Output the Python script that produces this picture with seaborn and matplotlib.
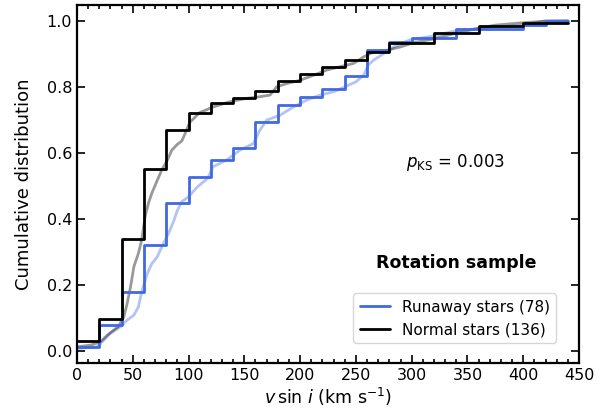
import numpy as np
import pandas as pd
import matplotlib
matplotlib.use("Agg")
import matplotlib.pyplot as plt
import seaborn as sns
from matplotlib.ticker import MultipleLocator

# ---------------- data ----------------
bin_edges = [0, 20, 40, 60, 80, 100, 120, 140, 160, 180, 200, 220,
             240, 260, 280, 300, 320, 340, 360, 380, 400, 420, 440]
n_runaway = 78
n_normal = 136
runaway_counts = [1, 6, 14, 25, 35, 41, 45, 48, 54, 58, 60, 62, 65, 71,
                  73, 74, 74, 76, 76, 76, 77, 78]
normal_counts = [4, 13, 46, 75, 91, 98, 102, 104, 107, 111, 114, 117, 120,
                 123, 127, 127, 131, 131, 134, 134, 135, 135]

# fine (unbinned) cumulative curves
runaway_fine_x = [0, 18, 24, 30, 39, 45, 51, 55, 58, 63, 67, 72, 76, 82, 87,
                  90, 94, 100, 108, 117, 122, 134, 146, 158, 164, 170, 182,
                  194, 206, 218, 230, 242, 250, 257, 261, 266, 275, 284, 298,
                  316, 340, 361, 382, 400, 420, 440]
runaway_fine_y = [0.007, 0.012, 0.032, 0.053, 0.073, 0.093, 0.108, 0.133,
                  0.179, 0.234, 0.264, 0.285, 0.315, 0.355, 0.396, 0.426,
                  0.452, 0.467, 0.497, 0.522, 0.558, 0.578, 0.608, 0.628,
                  0.669, 0.699, 0.714, 0.739, 0.760, 0.775, 0.785, 0.803,
                  0.815, 0.835, 0.866, 0.881, 0.901, 0.921, 0.942, 0.952,
                  0.970, 0.977, 0.982, 0.987, 1.0, 1.0]
normal_fine_x = [0, 12, 21, 27, 33, 37, 42, 45, 48, 51, 55, 58, 61, 64, 67,
                 72, 76, 81, 85, 90, 94, 97, 101, 110, 122, 137, 152, 164,
                 173, 179, 188, 200, 212, 224, 236, 248, 257, 266, 278, 290,
                 302, 318, 339, 359, 375, 399, 420, 440]
normal_fine_y = [0.012, 0.017, 0.027, 0.047, 0.063, 0.073, 0.103, 0.144,
                 0.194, 0.255, 0.295, 0.336, 0.406, 0.447, 0.477, 0.517,
                 0.548, 0.578, 0.608, 0.626, 0.636, 0.659, 0.692, 0.722,
                 0.739, 0.755, 0.765, 0.770, 0.775, 0.800, 0.810, 0.820,
                 0.835, 0.851, 0.861, 0.871, 0.891, 0.906, 0.911, 0.921,
                 0.934, 0.944, 0.962, 0.977, 0.987, 0.994, 0.999, 1.0]

runaway_label = "Runaway stars (78)"
normal_label = "Normal stars (136)"
pks_text = r"$p_{\rm KS}$ = 0.003"
sample_title = "Rotation sample"
x_label = r"$v\,\sin\,i$ (km s$^{-1}$)"
y_label = "Cumulative distribution"

# ---------------- style ----------------
sns.set_style("ticks", rc={
    "axes.edgecolor": "black",
    "axes.labelcolor": "black",
    "text.color": "black",
    "xtick.color": "black",
    "ytick.color": "black",
})
plt.rcParams["font.family"] = ["DejaVu Sans"]
plt.rcParams["mathtext.fontset"] = "dejavusans"

blue = "#4169e1"

fig = plt.figure(figsize=(6.1, 4.16), dpi=100)
ax = fig.add_axes([77 / 610, 53 / 416, 502 / 610, 358 / 416])

runaway_step = pd.DataFrame({
    "x": bin_edges,
    "y": [c / n_runaway for c in runaway_counts + runaway_counts[-1:]],
})
normal_step = pd.DataFrame({
    "x": bin_edges,
    "y": [c / n_normal for c in normal_counts + normal_counts[-1:]],
})
runaway_fine = pd.DataFrame({"x": runaway_fine_x, "y": runaway_fine_y})
normal_fine = pd.DataFrame({"x": normal_fine_x, "y": normal_fine_y})

sns.lineplot(data=runaway_fine, x="x", y="y", ax=ax, color=blue, alpha=0.4,
             lw=2.0, sort=False, legend=False)
sns.lineplot(data=normal_fine, x="x", y="y", ax=ax, color="black", alpha=0.4,
             lw=2.0, sort=False, legend=False)
sns.lineplot(data=runaway_step, x="x", y="y", ax=ax, color=blue, lw=2.0,
             drawstyle="steps-post", sort=False, label=runaway_label)
sns.lineplot(data=normal_step, x="x", y="y", ax=ax, color="black", lw=2.0,
             drawstyle="steps-post", sort=False, label=normal_label)

ax.set_xlim(0, 450)
ax.set_ylim(-0.037, 1.048)
ax.xaxis.set_major_locator(MultipleLocator(50))
ax.xaxis.set_minor_locator(MultipleLocator(10))
ax.yaxis.set_major_locator(MultipleLocator(0.2))
ax.yaxis.set_major_formatter(matplotlib.ticker.FormatStrFormatter("%.1f"))
ax.tick_params(which="both", direction="in", top=True, right=True,
               labelsize=11.5, width=1.2, colors="black")
ax.tick_params(which="major", length=6)
ax.tick_params(which="minor", length=3)
for sp in ax.spines.values():
    sp.set_linewidth(1.6)
    sp.set_color("black")

ax.set_xlabel(x_label, fontsize=12.5, labelpad=2)
ax.set_ylabel(y_label, fontsize=13, labelpad=10)

ax.text(0.753, 0.56, pks_text, transform=ax.transAxes, ha="center",
        va="center", fontsize=12)
ax.text(0.756, 0.279, sample_title, transform=ax.transAxes, ha="center",
        va="center", fontsize=12.5, fontweight="bold")

leg = ax.legend(loc="lower right", bbox_to_anchor=(0.955, 0.055),
                borderaxespad=0, fontsize=11, frameon=True, handlelength=2.0)
leg.get_frame().set_edgecolor("#cccccc")

fig.savefig("out.png", dpi=100)
